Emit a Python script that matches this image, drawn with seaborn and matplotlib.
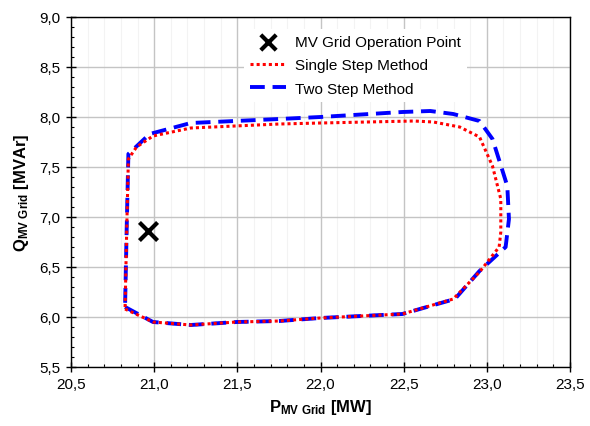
import matplotlib
matplotlib.use("Agg")
import matplotlib.pyplot as plt
import seaborn as sns
import pandas as pd
from matplotlib.ticker import MultipleLocator, FuncFormatter

# Data
single_x = [20.825, 20.993, 21.220, 21.496, 21.752, 21.999, 22.492, 22.798, 22.956, 23.074, 23.084, 23.084,
            23.034, 22.956, 22.837, 22.679, 22.561, 21.999, 21.752, 21.220, 20.993, 20.894, 20.845, 20.835, 20.825]
single_y = [6.08, 5.95, 5.92, 5.95, 5.96, 5.99, 6.03, 6.18, 6.45, 6.70, 6.85, 7.18,
            7.51, 7.80, 7.90, 7.95, 7.96, 7.94, 7.93, 7.89, 7.81, 7.70, 7.58, 6.88, 6.08]
two_x = [20.825, 20.993, 21.220, 21.496, 21.752, 21.999, 22.492, 22.808, 22.956, 23.113, 23.133, 23.123,
         23.034, 22.956, 22.798, 22.660, 22.492, 21.999, 21.752, 21.220, 20.973, 20.845, 20.835, 20.825]
two_y = [6.10, 5.95, 5.92, 5.95, 5.96, 5.99, 6.03, 6.18, 6.46, 6.70, 6.98, 7.31,
         7.78, 7.96, 8.03, 8.06, 8.05, 8.00, 7.98, 7.94, 7.83, 7.63, 6.90, 6.10]
op_x = [20.964]
op_y = [6.86]

sns.set_theme(style="white")
plt.rcParams['font.family'] = ['Liberation Sans', 'DejaVu Sans']
plt.rcParams['mathtext.fontset'] = 'custom'
plt.rcParams['mathtext.rm'] = 'Liberation Sans:bold'
plt.rcParams['mathtext.it'] = 'Liberation Sans:bold'
plt.rcParams['mathtext.bf'] = 'Liberation Sans:bold'
plt.rcParams['text.color'] = 'black'
plt.rcParams['axes.labelcolor'] = 'black'
plt.rcParams['xtick.color'] = 'black'
plt.rcParams['ytick.color'] = 'black'

fig = plt.figure(figsize=(5.9, 4.27), dpi=100)
ax = fig.add_axes([71 / 590, 1 - 368 / 427, 499 / 590, 350 / 427])

df_s = pd.DataFrame({"x": single_x, "y": single_y})
df_t = pd.DataFrame({"x": two_x, "y": two_y})

sns.scatterplot(x=op_x, y=op_y, marker="x", s=170, color="black", linewidth=3.0,
                ax=ax, label="MV Grid Operation Point", zorder=5)
sns.lineplot(data=df_s, x="x", y="y", sort=False, estimator=None, color="#ff0000",
             linewidth=2.2, ax=ax, label="Single Step Method", zorder=4)
ax.lines[-1].set_dashes([1, 1])
sns.lineplot(data=df_t, x="x", y="y", sort=False, estimator=None, color="#0000ff",
             linewidth=2.8, ax=ax, label="Two Step Method", zorder=3)
ax.lines[-1].set_dashes([3.8, 2.0])

ax.set_xlim(20.5, 23.5)
ax.set_ylim(5.5, 9.0)
ax.xaxis.set_major_locator(MultipleLocator(0.5))
ax.xaxis.set_minor_locator(MultipleLocator(0.1))
ax.yaxis.set_major_locator(MultipleLocator(0.5))
ax.yaxis.set_minor_locator(MultipleLocator(0.1))
fmt = FuncFormatter(lambda v, p: f"{v:.1f}".replace(".", ","))
ax.xaxis.set_major_formatter(fmt)
ax.yaxis.set_major_formatter(fmt)

ax.grid(True, which="major", color="#c4c4c4", linewidth=1.0, zorder=0)
ax.grid(True, which="minor", axis="x", color="#f3f3f3", linewidth=0.8, zorder=0)
ax.set_axisbelow(True)

for s in ax.spines.values():
    s.set_color("black")
    s.set_linewidth(1.0)
ax.tick_params(which="major", direction="inout", length=7, width=1, colors="black",
               labelsize=11, left=True, bottom=True, pad=4)
ax.tick_params(which="minor", direction="in", length=2.5, width=0.8, colors="black",
               left=True, bottom=True)

ax.set_xlabel(r"$\mathrm{P_{MV\ Grid}}$ [MW]", fontsize=12, fontweight="bold", labelpad=4)
ax.set_ylabel(r"$\mathrm{Q_{MV\ Grid}}$ [MVAr]", fontsize=12, fontweight="bold", labelpad=6)

leg = ax.legend(loc="upper left", bbox_to_anchor=((236 - 71) / 499, (368 - 22) / 350),
                frameon=True, fontsize=11, handlelength=2.4, handletextpad=0.55,
                labelspacing=0.62, borderpad=0.4, markerscale=0.85)
leg.get_frame().set_edgecolor("none")
leg.get_frame().set_alpha(1)

fig.savefig("out.png", dpi=100)
